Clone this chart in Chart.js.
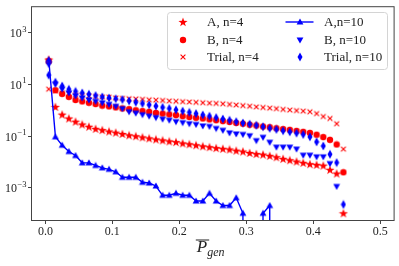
<!DOCTYPE html>
<html>
<head>
<meta charset="utf-8">
<script src="https://cdn.jsdelivr.net/npm/chart.js@4"></script>
<style>
  html, body { margin: 0; padding: 0; background: #fff; }
</style>
</head>
<body>
<canvas id="chart" width="399" height="266"></canvas>
<script>
// bin centres of P_gen
const pGen = [0.005, 0.015, 0.025, 0.035, 0.045, 0.055, 0.065, 0.075, 0.085, 0.095,
  0.105, 0.115, 0.125, 0.135, 0.145, 0.155, 0.165, 0.175, 0.185, 0.195,
  0.205, 0.215, 0.225, 0.235, 0.245, 0.255, 0.265, 0.275, 0.285, 0.295,
  0.305, 0.315, 0.325, 0.335, 0.345, 0.355, 0.365, 0.375, 0.385, 0.395,
  0.405, 0.415, 0.425, 0.435, 0.445];

// n = 4 series
const aN4 = [93, 1.35, 0.68, 0.48, 0.36, 0.28, 0.23, 0.19, 0.17, 0.15,
  0.135, 0.12, 0.107, 0.098, 0.089, 0.081, 0.074, 0.068, 0.062, 0.058,
  0.052, 0.048, 0.044, 0.040, 0.037, 0.034, 0.032, 0.030, 0.027, 0.025,
  0.022, 0.020, 0.019, 0.017, 0.015, 0.013, 0.0115, 0.0102, 0.0091, 0.0081,
  0.0076, 0.0071, 0.0049, 0.0035, 0.0001];
const bN4 = [80, 6.0, 4.3, 3.3, 2.5, 2.2, 1.95, 1.74, 1.51, 1.41,
  1.29, 1.17, 1.10, 1.0, 0.93, 0.87, 0.79, 0.74, 0.69, 0.65,
  0.59, 0.55, 0.51, 0.48, 0.44, 0.41, 0.38, 0.35, 0.32, 0.30,
  0.275, 0.257, 0.234, 0.219, 0.20, 0.186, 0.174, 0.158, 0.145, 0.132,
  0.112, 0.091, 0.071, 0.047, 0.0039];
const trialN4 = [6.6, 5.6, 4.7, 4.3, 3.9, 3.7, 3.6, 3.4, 3.3, 3.2,
  3.0, 2.9, 2.8, 2.75, 2.65, 2.55, 2.48, 2.4, 2.3, 2.23,
  2.15, 2.1, 2.03, 1.96, 1.89, 1.84, 1.78, 1.69, 1.6, 1.52,
  1.43, 1.35, 1.28, 1.21, 1.15, 1.08, 1.02, 0.97, 0.93, 0.87,
  0.74, 0.57, 0.48, 0.30, 0.031];

// n = 10 series (0 = empty bin)
const aN10 = [93, 0.093, 0.044, 0.025, 0.0175, 0.0091, 0.0091, 0.0072, 0.0058, 0.0051,
  0.0041, 0.0025, 0.0025, 0.0025, 0.0016, 0.0015, 0.00115, 0.0005, 0.0005, 0.0006,
  0.0005, 0.0005, 0.0003, 0.0003, 0.0006, 0.0003, 0.0002, 0.0002, 0.0004, 0.0001,
  0, 0, 0.0001, 0.0002, 0, 0, 0, 0, 0, 0,
  0, 0, 0, 0, 0];
const bN10 = [60, 10.2, 6.6, 4.7, 3.6, 3.0, 2.5, 2.2, 1.94, 1.70,
  1.42, 1.15, 0.87, 0.77, 0.67, 0.59, 0.52, 0.45, 0.41, 0.36,
  0.33, 0.30, 0.28, 0.245, 0.235, 0.195, 0.166, 0.132, 0.12, 0.115,
  0.102, 0.066, 0.089, 0.057, 0.037, 0.037, 0.037, 0.031, 0.018, 0.018,
  0.0155, 0.0155, 0.0085, 0.0011, 0];
const trialN10 = [23, 12.3, 8.7, 6.5, 5.4, 4.7, 4.2, 3.7, 3.3, 3.0,
  2.8, 2.6, 2.3, 2.05, 1.83, 1.63, 1.45, 1.29, 1.17, 1.04,
  0.93, 0.83, 0.74, 0.66, 0.59, 0.52, 0.46, 0.41, 0.36, 0.32,
  0.29, 0.26, 0.23, 0.20, 0.18, 0.16, 0.145, 0.129, 0.115, 0.093,
  0.059, 0.041, 0.0195, 0.0093, 0.00022];

const xTicks = [0, 0.1, 0.2, 0.3, 0.4, 0.5];
const yTicks = [1e-3, 1e-1, 1e1, 1e3];
const yTickExp = ['\u22123', '\u22121', '1', '3'];

const RED = '#ff0000';
const BLUE = '#0000ff';
const FONT = '"Liberation Serif", "DejaVu Serif", serif';

// zero bins go far below the axis, like matplotlib's log clipping
function toPoints(arr) {
    return pGen.map((x, i) => ({ x: x, y: arr[i] > 0 ? arr[i] : 1e-300 }));
}

// marker images
function makeMarker(w, h, draw) {
    const c = document.createElement('canvas');
    c.width = w;
    c.height = h;
    draw(c.getContext('2d'), w, h);
    return c;
}

const starImg = makeMarker(10, 10, (ctx) => {
    ctx.fillStyle = RED;
    ctx.beginPath();
    for (let k = 0; k < 10; k++) {
        const r = k % 2 === 0 ? 4.8 : 1.9;
        const a = -Math.PI / 2 + k * Math.PI / 5;
        const px = 5 + r * Math.cos(a), py = 5.4 + r * Math.sin(a);
        if (k === 0) ctx.moveTo(px, py); else ctx.lineTo(px, py);
    }
    ctx.closePath();
    ctx.fill();
});
const circleImg = makeMarker(8, 8, (ctx) => {
    ctx.fillStyle = RED;
    ctx.beginPath();
    ctx.arc(4, 4, 3.2, 0, Math.PI * 2);
    ctx.fill();
});
const crossImg = makeMarker(8, 8, (ctx) => {
    ctx.strokeStyle = RED;
    ctx.lineWidth = 1.1;
    ctx.beginPath();
    ctx.moveTo(1.6, 1.6); ctx.lineTo(6.4, 6.4);
    ctx.moveTo(6.4, 1.6); ctx.lineTo(1.6, 6.4);
    ctx.stroke();
});
const triUpImg = makeMarker(8, 8, (ctx) => {
    ctx.fillStyle = BLUE;
    ctx.beginPath();
    ctx.moveTo(4, 0.6); ctx.lineTo(7.4, 6.6); ctx.lineTo(0.6, 6.6);
    ctx.closePath();
    ctx.fill();
});
const triDownImg = makeMarker(8, 8, (ctx) => {
    ctx.fillStyle = BLUE;
    ctx.beginPath();
    ctx.moveTo(0.6, 1.4); ctx.lineTo(7.4, 1.4); ctx.lineTo(4, 7.4);
    ctx.closePath();
    ctx.fill();
});
const diamondImg = makeMarker(6, 10, (ctx) => {
    ctx.fillStyle = BLUE;
    ctx.beginPath();
    ctx.moveTo(3, 0.6); ctx.lineTo(5.5, 5); ctx.lineTo(3, 9.4); ctx.lineTo(0.5, 5);
    ctx.closePath();
    ctx.fill();
});

// drawn bottom to top: last one ends up on top
const series = [
    { label: 'Trial, n=10', data: trialN10, img: diamondImg },
    { label: 'B, n=10', data: bN10, img: triDownImg },
    { label: 'A,n=10', data: aN10, img: triUpImg, line: true },
    { label: 'Trial, n=4', data: trialN4, img: crossImg },
    { label: 'B, n=4', data: bN4, img: circleImg },
    { label: 'A, n=4', data: aN4, img: starImg }
];

const datasets = series.map(s => ({
    label: s.label,
    data: toPoints(s.data),
    pointStyle: s.img,
    pointRadius: 4,
    pointHoverRadius: 4,
    showLine: !!s.line,
    borderColor: BLUE,
    borderWidth: 1.4,
    backgroundColor: 'transparent'
}));

const overlay = {
    id: 'overlay',
    afterDraw(chart) {
        const ctx = chart.ctx;
        const ca = chart.chartArea;
        const ys = chart.scales.y;
        ctx.save();

        // frame
        ctx.strokeStyle = '#444';
        ctx.lineWidth = 1;
        ctx.strokeRect(ca.left - 0.5, ca.top - 0.5, ca.right - ca.left + 1, ca.bottom - ca.top + 1);

        // y tick labels 10^k
        ctx.fillStyle = '#222';
        ctx.textBaseline = 'alphabetic';
        ctx.textAlign = 'left';
        yTicks.forEach((v, i) => {
            const py = ys.getPixelForValue(v);
            ctx.font = '12px ' + FONT;
            const bw = ctx.measureText('10').width;
            ctx.font = '8.5px ' + FONT;
            const ew = ctx.measureText(yTickExp[i]).width;
            const x0 = ca.left - 6 - bw - ew;
            ctx.font = '12px ' + FONT;
            ctx.fillText('10', x0, py + 4.5);
            ctx.font = '8.5px ' + FONT;
            ctx.fillText(yTickExp[i], x0 + bw + 0.5, py - 1);
        });

        // x axis title: overline P, subscript gen
        ctx.font = 'italic 17px ' + FONT;
        const pw = ctx.measureText('P').width;
        const px = (ca.left + ca.right) / 2 - 16;
        ctx.fillText('P', px, ca.bottom + 32);
        ctx.fillRect(px - 1, ca.bottom + 19.5, pw + 3, 1);
        ctx.font = 'italic 12px ' + FONT;
        ctx.fillText('gen', px + pw, ca.bottom + 36);

        // legend box
        const lx = 167.5, ly = 12.5, lw = 220, lh = 57;
        ctx.beginPath();
        ctx.roundRect(lx, ly, lw, lh, 3);
        ctx.fillStyle = 'rgba(255,255,255,0.85)';
        ctx.fill();
        ctx.strokeStyle = '#d4d4d4';
        ctx.stroke();

        const rows = [22, 39.5, 57];
        const legendItems = [
            ['A, n=4', starImg, 0, 0], ['B, n=4', circleImg, 0, 1], ['Trial, n=4', crossImg, 0, 2],
            ['A,n=10', triUpImg, 1, 0], ['B, n=10', triDownImg, 1, 1], ['Trial, n=10', diamondImg, 1, 2]
        ];
        const markX = [183, 299.5];
        const textX = [207, 324];
        ctx.font = '13px ' + FONT;
        ctx.textBaseline = 'middle';
        legendItems.forEach(([label, img, col, row]) => {
            const y = rows[row];
            if (label === 'A,n=10') {
                ctx.strokeStyle = BLUE;
                ctx.lineWidth = 1.4;
                ctx.beginPath();
                ctx.moveTo(markX[col] - 14, y);
                ctx.lineTo(markX[col] + 14, y);
                ctx.stroke();
            }
            ctx.drawImage(img, Math.round(markX[col] - img.width / 2), Math.round(y - img.height / 2));
            ctx.fillStyle = '#222';
            ctx.fillText(label, textX[col], y + 1);
        });
        ctx.restore();
    }
};

new Chart(document.getElementById('chart'), {
    type: 'scatter',
    data: { datasets: datasets },
    options: {
        responsive: false,
        animation: false,
        devicePixelRatio: 1,
        layout: { padding: { top: 4, right: 5, left: 0, bottom: 0 } },
        plugins: { legend: { display: false }, tooltip: { enabled: false } },
        scales: {
            x: {
                type: 'linear',
                min: -0.02,
                max: 0.52,
                afterBuildTicks: s => { s.ticks = xTicks.map(v => ({ value: v })); },
                afterFit: s => { s.height = 46; },
                ticks: {
                    callback: v => v.toFixed(1),
                    font: { family: FONT, size: 12 },
                    color: '#222',
                    maxRotation: 0,
                    padding: 1
                },
                grid: { drawOnChartArea: false, tickLength: 4, tickColor: '#444' },
                border: { display: false }
            },
            y: {
                type: 'logarithmic',
                min: Math.pow(10, -4.26),
                max: 1e4,
                afterBuildTicks: s => { s.ticks = yTicks.map(v => ({ value: v })); },
                afterFit: s => { s.width = 32; },
                ticks: { callback: () => '', padding: 0 },
                grid: { drawOnChartArea: false, tickLength: 4, tickColor: '#444' },
                border: { display: false }
            }
        }
    },
    plugins: [overlay]
});
</script>
</body>
</html>
